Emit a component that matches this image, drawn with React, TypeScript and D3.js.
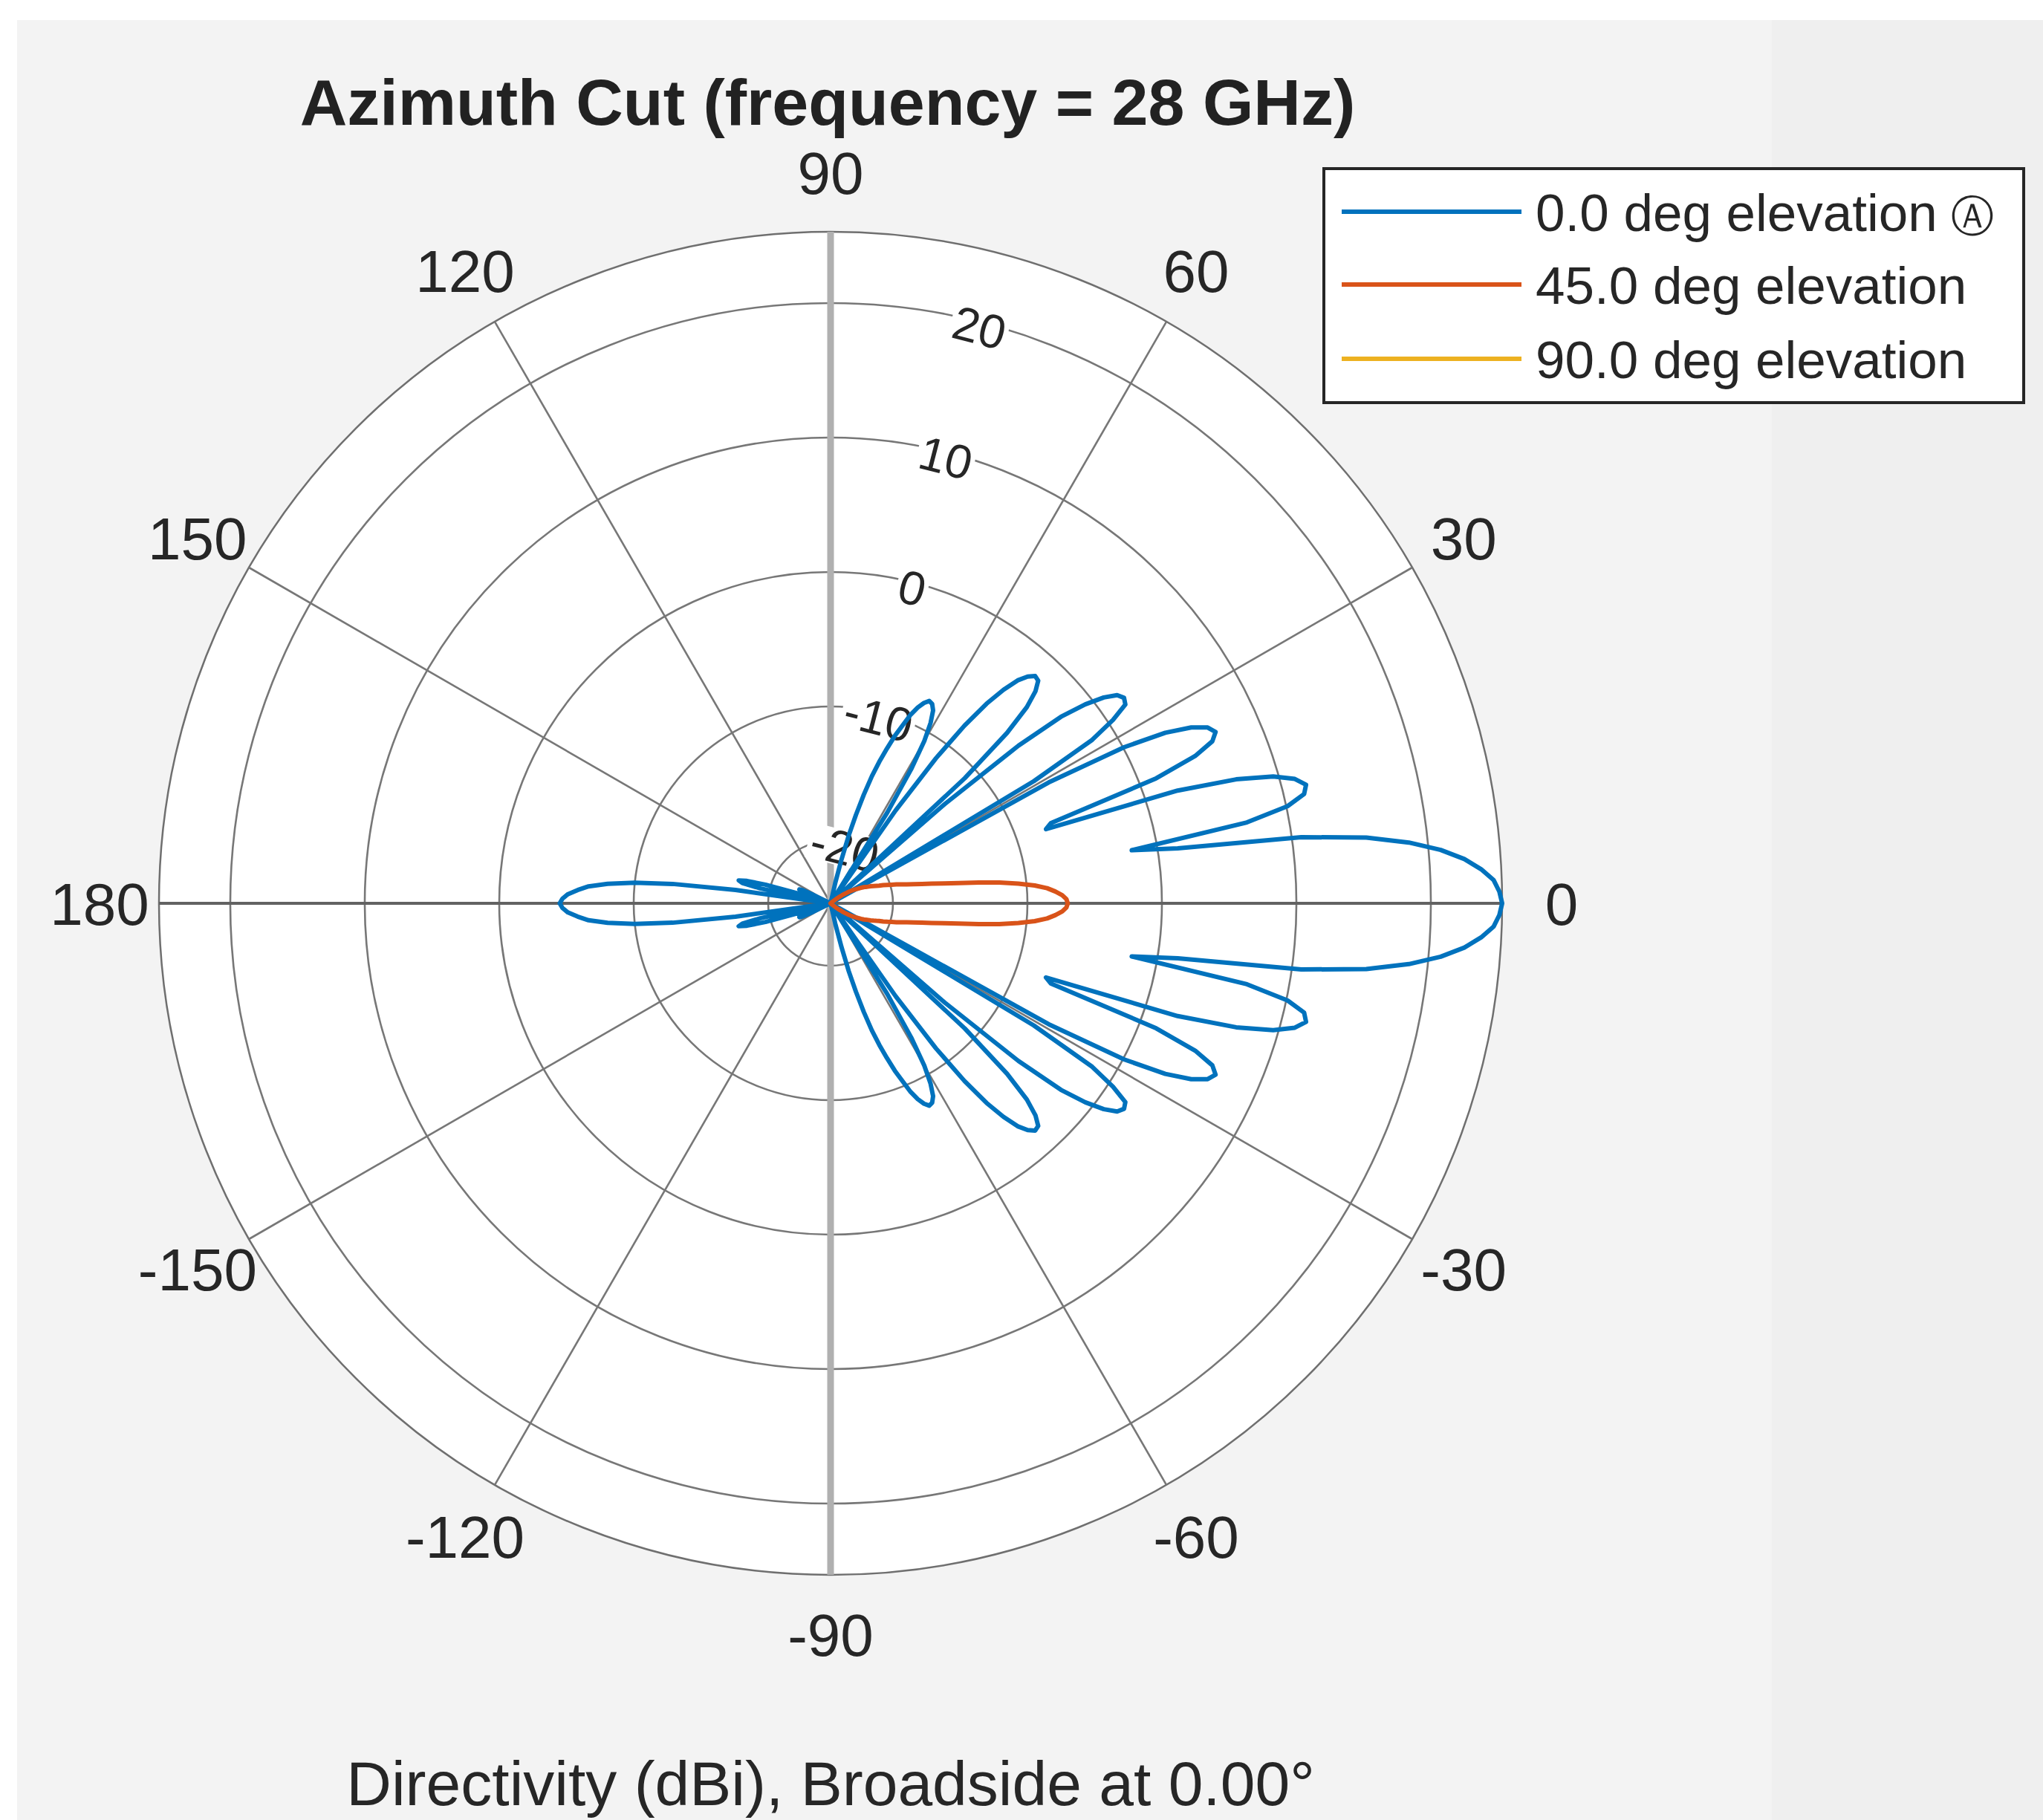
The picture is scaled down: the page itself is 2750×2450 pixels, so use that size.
import React from 'react';
import * as d3 from 'd3';

// canvas + polar frame
const W = 2750;
const H = 2450;
const cx = 1118;
const cy = 1216;
const R = 904;
const rMin = -24.64;
const rMax = 25.3;

const ringTicks = [-20, -10, 0, 10, 20];
const spokeAngles = [30, 60, 120, 150, 210, 240, 300, 330];
const angleTicks = [0, 30, 60, 90, 120, 150, 180, -150, -120, -90, -60, -30];

// 0 deg elevation, 1 deg steps, front part from -79 to 79
const blueFrontStart = -79;
const blueFrontDb = [
  -27.0, -25.2, -23.1, -21.3, -19.4, -17.8, -16.2, -14.7, -13.5, -12.4,
  -11.3, -10.4, -9.4, -8.7, -8.2, -7.9, -8.0, -8.4, -9.3, -10.7,
  -13.0, -16.7, -25.2, -26.8, -16.2, -11.3, -8.1, -5.8, -4.2, -3.0,
  -2.3, -1.9, -2.0, -2.7, -4.0, -6.4, -11.0, -26.3, -13.4, -6.4,
  -2.6, -0.6, 0.8, 1.7, 2.0, 1.8, 0.4, -1.7, -7.0, -40,
  -6.1, 0.1, 3.3, 5.2, 6.3, 6.7, 6.2, 4.6, 1.3, -7.2,
  -7.7, 2.5, 6.9, 9.6, 11.1, 11.8, 11.5, 10.1, 6.9, -1.9,
  1.5, 10.7, 15.5, 18.6, 20.9, 22.6, 23.8, 24.7, 25.1,
  25.3,
  25.1, 24.7, 23.8, 22.6, 20.9, 18.6, 15.5, 10.7, 1.5, -1.9,
  6.9, 10.1, 11.5, 11.8, 11.1, 9.6, 6.9, 2.5, -7.7, -7.2,
  1.3, 4.6, 6.2, 6.7, 6.3, 5.2, 3.3, 0.1, -6.1, -40,
  -7.0, -1.7, 0.4, 1.8, 2.0, 1.7, 0.8, -0.6, -2.6, -6.4,
  -13.4, -26.3, -11.0, -6.4, -4.0, -2.7, -2.0, -1.9, -2.3, -3.0,
  -4.2, -5.8, -8.1, -11.3, -16.2, -26.8, -25.2, -16.7, -13.0, -10.7,
  -9.3, -8.4, -8.0, -7.9, -8.2, -8.7, -9.4, -10.4, -11.3, -12.4,
  -13.5, -14.7, -16.2, -17.8, -19.4, -21.3, -23.1, -25.2, -27.0,
];
// back part from 152 through 180 to 208 (= -152)
const blueBackStart = 152;
const blueBackDb = [
  -28.0, -25.0, -23.2, -22.3, -22.1, -22.6, -24.0, -27.5, -34, -34,
  -26.5, -22.2, -19.6, -18.2, -17.6, -17.9, -19.3, -22.6, -30.0, -27.0,
  -17.5, -12.8, -10.0, -8.0, -6.6, -5.8, -5.1, -4.7,
  -4.5,
  -4.7, -5.1, -5.8, -6.6, -8.0, -10.0, -12.8, -17.5, -27.0, -30.0,
  -22.6, -19.3, -17.9, -17.6, -18.2, -19.6, -22.2, -26.5, -34, -34,
  -27.5, -24.0, -22.6, -22.1, -22.3, -23.2, -25.0, -28.0,
];

// 45 deg elevation, from -40 to 40
const orangeStart = -40;
const orangeDb = [
  -24.8, -24.5, -24.25, -24.0, -23.8, -23.6, -23.4, -23.2, -23.0, -22.8,
  -22.6, -22.45, -22.3, -22.1, -21.9, -21.75, -21.6, -21.4, -21.2, -21.0,
  -20.8, -20.5, -20.2, -19.9, -19.55, -19.2, -18.8, -18.3, -17.7, -17.0,
  -16.1, -15.0, -13.5, -12.0, -10.6, -9.4, -8.5, -7.9, -7.4, -7.1,
  -7.0,
  -7.1, -7.4, -7.9, -8.5, -9.4, -10.6, -12.0, -13.5, -15.0, -16.1,
  -17.0, -17.7, -18.3, -18.8, -19.2, -19.55, -19.9, -20.2, -20.5, -20.8,
  -21.0, -21.2, -21.4, -21.6, -21.75, -21.9, -22.1, -22.3, -22.45, -22.6,
  -22.8, -23.0, -23.2, -23.4, -23.6, -23.8, -24.0, -24.25, -24.5, -24.8,
];

// 90 deg elevation stays below the plotted range everywhere
const yellowAz = [-180, -90, 0, 90];
const yellowDb = [-45, -45, -45, -45];

const seriesNames = ['0.0 deg elevation', '45.0 deg elevation', '90.0 deg elevation'];
const seriesColors = ['#0072BD', '#D95319', '#EDB120'];

const FONT = '"Liberation Sans", Arial, Helvetica, sans-serif';

export default function App() {
  const rScale = d3.scaleLinear().domain([rMin, rMax]).range([0, R]).clamp(true);
  const rad = (deg: number) => (deg * Math.PI) / 180;

  const radial = d3
    .lineRadial<[number, number]>()
    .angle((d) => Math.PI / 2 - rad(d[0]))
    .radius((d) => rScale(d[1]))
    .curve(d3.curveLinearClosed);

  const bluePts: [number, number][] = [
    ...blueFrontDb.map((v, i) => [blueFrontStart + i, v] as [number, number]),
    ...blueBackDb.map((v, i) => [blueBackStart + i, v] as [number, number]),
  ];
  const orangePts: [number, number][] = orangeDb.map((v, i) => [orangeStart + i, v]);
  const yellowPts: [number, number][] = yellowAz.map((a, i) => [a, yellowDb[i]]);

  const polar = (deg: number, r: number) => [cx + r * Math.cos(rad(deg)), cy - r * Math.sin(rad(deg))];

  const labelAngle = 75.5;
  const legend = { x: 1782, y: 227, w: 942, h: 315 };
  const legendRows = [285, 383, 483];

  return (
    <svg width={W} height={H} style={{ position: 'absolute', left: 0, top: 0 }} fontFamily={FONT}>
      <rect x={0} y={0} width={W} height={H} fill="#ffffff" />
      <rect x={23} y={27} width={W - 23} height={H - 27} fill="#f3f3f3" />
      <rect x={2385} y={27} width={W - 2385} height={H - 27} fill="#efefef" />

      {/* title */}
      <text x={1114} y={168} textAnchor="middle" fontSize={88} fontWeight="bold" fill="#222">
        Azimuth Cut (frequency = 28 GHz)
      </text>

      {/* polar grid */}
      <circle cx={cx} cy={cy} r={R} fill="#ffffff" stroke="#6f6f6f" strokeWidth={2.5} />
      {ringTicks.map((t) => (
        <circle key={t} cx={cx} cy={cy} r={rScale(t)} fill="none" stroke="#777" strokeWidth={2.6} />
      ))}
      {spokeAngles.map((a) => {
        const [x, y] = polar(a, R);
        return <line key={a} x1={cx} y1={cy} x2={x} y2={y} stroke="#777" strokeWidth={2.6} />;
      })}
      <line x1={cx} y1={cy - R} x2={cx} y2={cy + R} stroke="#b0b0b0" strokeWidth={9} />
      <line x1={cx - R} y1={cy} x2={cx + R} y2={cy} stroke="#626262" strokeWidth={4} />

      {/* magnitude tick labels */}
      {ringTicks.map((t) => {
        const [x, y] = polar(labelAngle, rScale(t) - 8);
        const label = String(t);
        const w = label.replace('-', '').length * 36 + (t < 0 ? 22 : 0) + 6;
        return (
          <g key={t} transform={`translate(${x},${y}) rotate(${90 - labelAngle})`}>
            <rect x={-w / 2} y={-24} width={w} height={48} fill="#ffffff" />
            <text textAnchor="middle" dominantBaseline="central" fontSize={64} fill="#262626">
              {label}
            </text>
          </g>
        );
      })}

      {/* angle tick labels */}
      {angleTicks.map((a) => {
        const [x, y] = polar(a, 984);
        return (
          <text key={a} x={x} y={y + 29} textAnchor="middle" fontSize={80} fill="#262626">
            {String(a)}
          </text>
        );
      })}

      {/* data */}
      <g transform={`translate(${cx},${cy})`} fill="none" strokeLinejoin="round">
        <path d={radial(yellowPts) || ''} stroke={seriesColors[2]} strokeWidth={6} strokeLinecap="butt" />
        <path d={radial(bluePts) || ''} stroke={seriesColors[0]} strokeWidth={6} />
        <path d={radial(orangePts) || ''} stroke={seriesColors[1]} strokeWidth={6} />
      </g>

      {/* legend */}
      <rect x={legend.x} y={legend.y} width={legend.w} height={legend.h} fill="#ffffff" stroke="#262626" strokeWidth={4} />
      {seriesNames.map((name, i) => (
        <g key={name}>
          <line x1={1806} x2={2048} y1={legendRows[i]} y2={legendRows[i]} stroke={seriesColors[i]} strokeWidth={6} />
          <text x={2067} y={legendRows[i] + 26} fontSize={71} fill="#262626">
            {name}
            {i === 0 ? <tspan fontSize={58} dx={18}>{'\u24B6'}</tspan> : null}
          </text>
        </g>
      ))}

      {/* bottom caption */}
      <text x={1118} y={2430} textAnchor="middle" fontSize={84} fill="#262626">
        Directivity (dBi), Broadside at 0.00°
      </text>
    </svg>
  );
}
